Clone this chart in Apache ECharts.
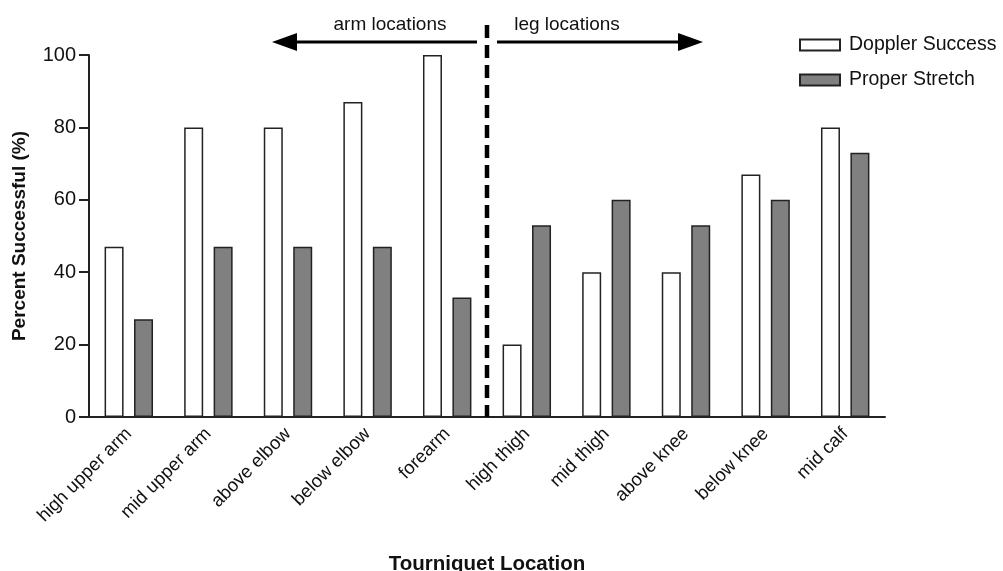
<!DOCTYPE html>
<html>
<head>
<meta charset="utf-8">
<script src="https://cdn.jsdelivr.net/npm/echarts@6/dist/echarts.min.js"></script>
<style>html,body{margin:0;padding:0;background:#fff}#c{width:1003px;height:571px}</style>
</head>
<body>
<div id="c"></div>
<script>
const categories = ['high upper arm','mid upper arm','above elbow','below elbow','forearm','high thigh','mid thigh','above knee','below knee','mid calf'];
const dopplerSuccess = [47, 80, 80, 87, 100, 20, 40, 40, 67, 80];
const properStretch = [27, 47, 47, 47, 33, 53, 60, 53, 60, 73];
const yTicks = [0, 20, 40, 60, 80, 100];

const FONT = '"Liberation Sans", Arial, sans-serif';
const chart = echarts.init(document.getElementById('c'), null, {renderer: 'canvas'});
const option = {
  animation: false,
  backgroundColor: '#fff',
  textStyle: {fontFamily: FONT},
  grid: {left: 89, right: 118, top: 55, bottom: 154, containLabel: false, outerBoundsMode: 'none'},
  legend: {
    orient: 'vertical', left: 794, top: 30, itemWidth: 40, itemHeight: 11, itemGap: 15,
    icon: 'rect',
    textStyle: {fontFamily: FONT, fontSize: 19.5, color: '#111', padding: [0, 0, 0, 4]},
    data: ['Doppler Success', 'Proper Stretch']
  },
  xAxis: {
    type: 'category', data: categories,
    name: 'Tourniquet Location', nameLocation: 'middle', nameGap: 137,
    nameTextStyle: {fontFamily: FONT, fontSize: 20.5, fontWeight: 'bold', color: '#111'},
    axisLine: {lineStyle: {color: '#222', width: 2}},
    axisTick: {alignWithLabel: true, interval: 0, length: 10, lineStyle: {color: '#222', width: 2}},
    axisLabel: {interval: 0, rotate: 45, fontFamily: FONT, fontSize: 18.5, color: '#111', margin: 14}
  },
  yAxis: {
    type: 'value', min: 0, max: 100, interval: 20,
    name: 'Percent Successful (%)', nameLocation: 'middle', nameGap: 60,
    nameTextStyle: {fontFamily: FONT, fontSize: 19, fontWeight: 'bold', color: '#111'},
    axisLine: {show: true, lineStyle: {color: '#222', width: 2}},
    axisTick: {show: true, length: 10, lineStyle: {color: '#222', width: 2}},
    axisLabel: {fontFamily: FONT, fontSize: 20, color: '#111', margin: 13,
      formatter: v => yTicks.includes(v) ? String(v) : ''},
    splitLine: {show: false}
  },
  series: [
    {name: 'Doppler Success', type: 'bar', data: dopplerSuccess, barWidth: 19, barGap: '55%',
     itemStyle: {color: '#ffffff', borderColor: '#222', borderWidth: 1.5}},
    {name: 'Proper Stretch', type: 'bar', data: properStretch, barWidth: 19,
     itemStyle: {color: '#808080', borderColor: '#222', borderWidth: 1.5}}
  ]
};
chart.setOption(option);

// annotations
const x4 = chart.convertToPixel({xAxisIndex: 0}, 4);
const x5 = chart.convertToPixel({xAxisIndex: 0}, 5);
const xMid = (x4 + x5) / 2;
const y0 = chart.convertToPixel({yAxisIndex: 0}, 0);
const arrowY = 42;
const leftEnd = 272, rightEnd = 703;
const annFont = '19px "Liberation Sans", Arial, sans-serif';
chart.setOption({
  graphic: [
    {type: 'line', shape: {x1: xMid, y1: 25, x2: xMid, y2: y0}, style: {stroke: '#000', lineWidth: 4.5, lineDash: [13, 7]}, z: 10},
    {type: 'line', shape: {x1: xMid - 10, y1: arrowY, x2: leftEnd + 20, y2: arrowY}, style: {stroke: '#000', lineWidth: 3}},
    {type: 'polygon', shape: {points: [[leftEnd, arrowY], [leftEnd + 25, arrowY - 9], [leftEnd + 25, arrowY + 9]]}, style: {fill: '#000'}},
    {type: 'line', shape: {x1: xMid + 10, y1: arrowY, x2: rightEnd - 20, y2: arrowY}, style: {stroke: '#000', lineWidth: 3}},
    {type: 'polygon', shape: {points: [[rightEnd, arrowY], [rightEnd - 25, arrowY - 9], [rightEnd - 25, arrowY + 9]]}, style: {fill: '#000'}},
    {type: 'text', style: {text: 'arm locations', x: 390, y: 25, align: 'center', verticalAlign: 'middle', font: annFont, fill: '#111'}},
    {type: 'text', style: {text: 'leg locations', x: 567, y: 25, align: 'center', verticalAlign: 'middle', font: annFont, fill: '#111'}}
  ]
});
</script>
</body>
</html>
